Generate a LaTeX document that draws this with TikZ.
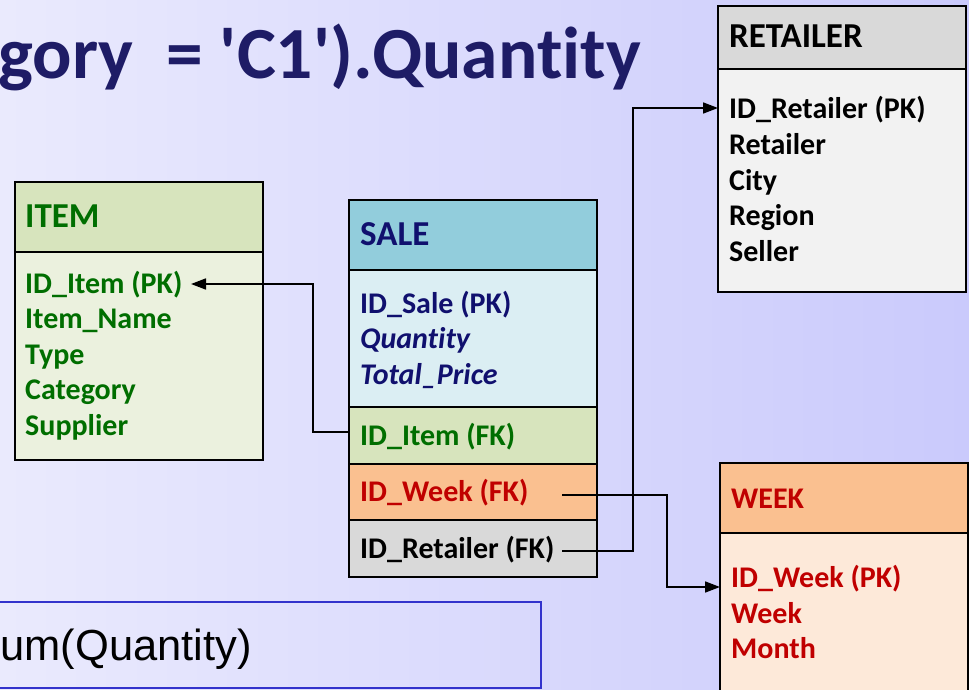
\documentclass[tikz,border=0pt]{standalone}
\usepackage{fontspec}
\setmainfont{Carlito}[Ligatures=NoCommon]
\newfontfamily\titlefont{Carlito}[Ligatures={TeXOff,NoCommon}]
\newfontfamily\arialfont{Liberation Sans}
\usetikzlibrary{arrows.meta,calc}

% palette
\definecolor{bgleft}{RGB}{234,234,253}
\definecolor{bgright}{RGB}{202,202,252}
\definecolor{titlenavy}{RGB}{30,28,102}
\definecolor{itemhead}{RGB}{215,228,189}
\definecolor{itembody}{RGB}{235,241,222}
\definecolor{itemtext}{RGB}{0,110,0}
\definecolor{salehead}{RGB}{146,205,220}
\definecolor{salebody}{RGB}{219,238,243}
\definecolor{saletext}{RGB}{16,16,110}
\definecolor{rethead}{RGB}{217,217,217}
\definecolor{retbody}{RGB}{242,242,242}
\definecolor{weekhead}{RGB}{250,192,144}
\definecolor{weekbody}{RGB}{253,233,217}
\definecolor{weektext}{RGB}{192,0,0}
\definecolor{queryblue}{RGB}{51,51,204}

\tikzset{
  cell/.style={draw=black, line width=1.8pt, rectangle, inner sep=0pt, outer sep=0pt,
               anchor=north west, minimum width=248pt},
  field/.style={anchor=base west, inner sep=0pt, font=\bfseries\fontsize{30}{34}\selectfont},
  headfield/.style={field, font=\bfseries\fontsize{35}{40}\selectfont},
  slanted/.style={font=\bfseries\itshape\fontsize{30}{34}\selectfont},
  conn/.style={draw=black, line width=1.7pt},
  tip/.style={-{Triangle[length=15pt,width=11pt]}},
}

\begin{document}
\begin{tikzpicture}[x=1pt,y=-1pt]
\useasboundingbox (0,0) rectangle (969,690);
\clip (0,0) rectangle (969,690);
\shade[left color=bgleft,right color=bgright] (0,0) rectangle (969,690);

% heading of the slide
\node[anchor=base east, inner sep=0pt, text=titlenavy,
      font=\titlefont\bfseries\fontsize{73.5}{80}\selectfont] (title) at (641,79)
  {gory\ \ = 'C1').Quantity};

% query box at the bottom
\draw[draw=queryblue, line width=2.4pt] (-10,602) rectangle (541,688);
\node[anchor=base east, inner sep=0pt, font=\arialfont\fontsize{43.5}{48}\selectfont] (query) at (252,660)
  {um(Quantity)};

% ITEM table
\node[cell, fill=itemhead, minimum height=70pt] (itemH) at (15,182) {};
\node[cell, fill=itembody, minimum height=208pt] (itemB) at (15,252) {};
\node[headfield, text=itemtext] (itemT) at (25,227) {ITEM};
\node[field, text=itemtext] (itemPK) at (25,293) {ID\_Item (PK)};
\node[field, text=itemtext] (itemName) at (25,328.5) {Item\_Name};
\node[field, text=itemtext] (itemType) at (25,364) {Type};
\node[field, text=itemtext] (itemCat) at (25,399.5) {Category};
\node[field, text=itemtext] (itemSup) at (25,435) {Supplier};

% SALE table
\node[cell, fill=salehead, minimum height=70pt] (saleH) at (349,200) {};
\node[cell, fill=salebody, minimum height=137pt] (saleB) at (349,270) {};
\node[cell, fill=itemhead, minimum height=57pt] (saleItem) at (349,407) {};
\node[cell, fill=weekhead, minimum height=56pt] (saleWeek) at (349,464) {};
\node[cell, fill=rethead, minimum height=57pt] (saleRet) at (349,520) {};
\node[headfield, text=saletext] (saleT) at (360,245) {SALE};
\node[field, text=saletext] (salePK) at (360,313) {ID\_Sale (PK)};
\node[field, slanted, text=saletext] (saleQty) at (360,348.5) {Quantity};
\node[field, slanted, text=saletext] (salePrice) at (360,384) {Total\_Price};
\node[field, text=itemtext] (saleItemFK) at (360,445) {ID\_Item (FK)};
\node[field, text=weektext] (saleWeekFK) at (360,501) {ID\_Week (FK)};
\node[field, text=black] (saleRetFK) at (360,558) {ID\_Retailer (FK)};

% RETAILER table
\node[cell, fill=rethead, minimum height=63pt] (retH) at (718,6) {};
\node[cell, fill=retbody, minimum height=223pt] (retB) at (718,69) {};
\node[headfield] (retT) at (729,48) {RETAILER};
\node[field] (retPK) at (729,119) {ID\_Retailer (PK)};
\node[field] (retName) at (729,154.5) {Retailer};
\node[field] (retCity) at (729,190) {City};
\node[field] (retRegion) at (729,225.5) {Region};
\node[field] (retSeller) at (729,261) {Seller};

% WEEK table
\node[cell, fill=weekhead, minimum height=70pt] (weekH) at (720,463) {};
\node[cell, fill=weekbody, minimum height=200pt] (weekB) at (720,533) {};
\node[field, text=weektext] (weekT) at (731,508) {WEEK};
\node[field, text=weektext] (weekPK) at (731,587) {ID\_Week (PK)};
\node[field, text=weektext] (weekWk) at (731,623) {Week};
\node[field, text=weektext] (weekMonth) at (731,658) {Month};

% connector ends and bends
\coordinate (itemOut) at (349,432);
\coordinate (itemBend) at (313,0);
\coordinate (itemIn) at (191,284);
\coordinate (weekOut) at (562,495);
\coordinate (weekBend) at (667,0);
\coordinate (weekIn) at (720,587);
\coordinate (retOut) at (562,551);
\coordinate (retBend) at (633,0);
\coordinate (retIn) at (718,108);

% foreign key -> primary key
\draw[conn, tip] (itemOut) -- (itemOut -| itemBend) -- (itemBend |- itemIn) -- (itemIn);
\draw[conn, tip] (weekOut) -- (weekOut -| weekBend) -- (weekBend |- weekIn) -- (weekIn);
\draw[conn, tip] (retOut) -- (retOut -| retBend) -- (retBend |- retIn) -- (retIn);
\end{tikzpicture}
\end{document}
